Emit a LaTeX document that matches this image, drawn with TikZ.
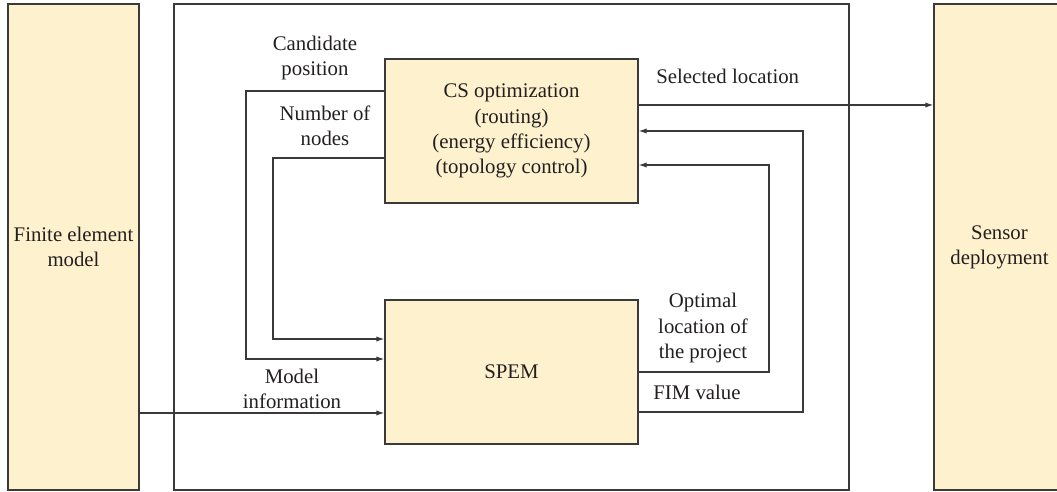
\documentclass[tikz,border=0pt]{standalone}
\usepackage{fontspec}
\setmainfont{Liberation Serif}
\usetikzlibrary{arrows.meta}

\definecolor{boxfill}{HTML}{FEF1CE}
\definecolor{linegray}{HTML}{3A3A3A}
\definecolor{txt}{HTML}{231F20}

\tikzset{
    blk/.style={draw=linegray, fill=boxfill, line width=0.6pt, inner sep=0pt, align=center, text=txt},
    lbl/.style={align=center, text=txt, inner sep=0pt},
    conn/.style={draw=linegray, line width=0.6pt},
    arr/.style={conn, -{Latex[length=4pt,width=2.6pt]}}
}

\begin{document}
\begin{tikzpicture}[x=0.5pt, y=-0.5pt, font=\fontsize{10.4}{12.6}\selectfont]
    \clip (0,0) rectangle (1057,492);
    % outer frame
    \draw[conn] (174,4) rectangle (849,490);

    \node[blk, minimum width=65.5pt, minimum height=243pt] (fe) at (73.5,247) {Finite element\\model};
    \node[blk, minimum width=65.5pt, minimum height=243pt] (sensor) at (999.5,247) {Sensor\\deployment};
    \node[blk, minimum width=126.5pt, minimum height=72pt] (cs) at (511.5,131)
        {CS optimization\\(routing)\\(energy efficiency)\\(topology control)};
    \node[blk, minimum width=126.5pt, minimum height=72pt] (spem) at (511.5,372) {SPEM};

    % points on the box sides
    \coordinate (csout) at ([yshift=13pt]cs.east);
    \coordinate (csin) at ([yshift=-17pt]cs.east);
    \coordinate (cand) at ([yshift=20pt]cs.west);
    \coordinate (numb) at ([yshift=-13.5pt]cs.west);
    \coordinate (spcand) at ([yshift=6.5pt]spem.west);
    \coordinate (spnumb) at ([yshift=16.5pt]spem.west);
    \coordinate (spmod) at ([yshift=-20.5pt]spem.west);
    \coordinate (spfim) at ([yshift=-20pt]spem.east);
    \coordinate (candx) at (246,0);
    \coordinate (numbx) at (273,0);
    \coordinate (optx) at (769,0);
    \coordinate (fimx) at (803,0);

    \draw[arr] (csout) -- (csout -| sensor.west);
    \draw[arr] (spem.east) -| (optx |- csin) -- (csin);
    \draw[arr] (spfim) -| (fimx |- cs.east) -- (cs.east);
    \draw[arr] (cand) -| (candx |- spcand) -- (spcand);
    \draw[arr] (numb) -| (numbx |- spnumb) -- (spnumb);
    \draw[arr] (fe.east |- spmod) -- (spmod);

    % labels
    \node[lbl] (lcand) at (315,58) {Candidate\\position};
    \node[lbl] (lnumb) at (325,126) {Number of\\nodes};
    \node[lbl, anchor=west] (lsel) at (656,76) {Selected location};
    \node[lbl] (lopt) at (703,328) {Optimal\\location of\\the project};
    \node[lbl] (lfim) at (697,392) {FIM value};
    \node[lbl] (lmod) at (292,389) {Model\\information};
\end{tikzpicture}
\end{document}
